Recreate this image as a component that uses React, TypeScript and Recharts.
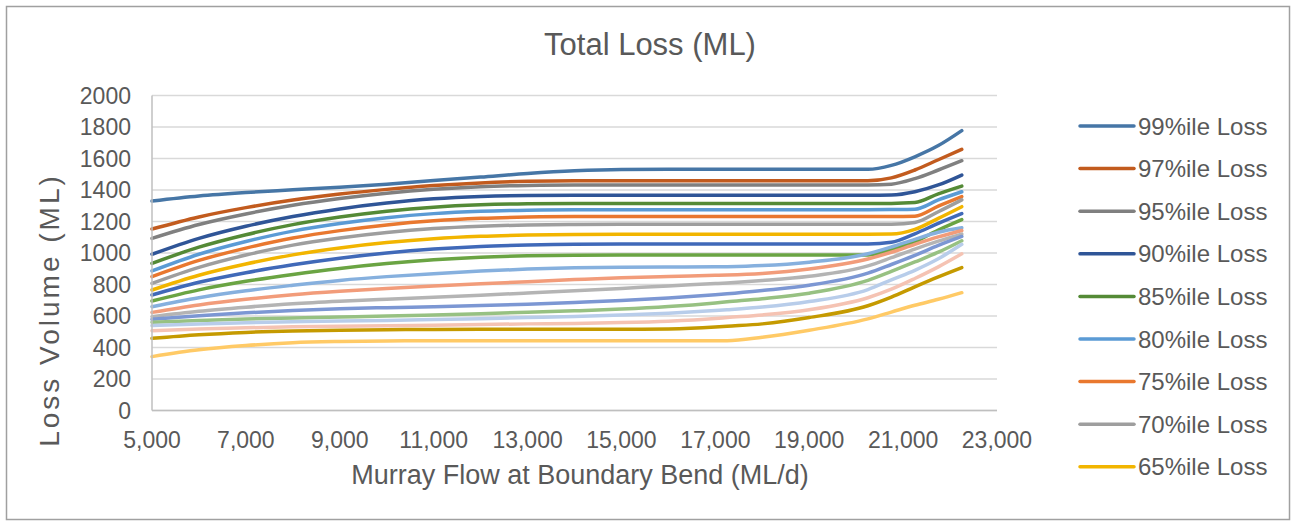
import { LineChart, Line, XAxis, YAxis, CartesianGrid } from 'recharts'

// flow at Boundary Bend (ML/d)
const FLOWS = [5000, 6000, 7000, 8000, 9000, 10000, 11000, 12000, 13000, 14000, 15000, 16000, 17000, 17250, 18000, 19000, 20250, 20750, 21250, 21750, 22250]

const p99 = [1330, 1362, 1384, 1401, 1418, 1437, 1460, 1482, 1505, 1522, 1530, 1531, 1531, 1531, 1531, 1531, 1531, 1556, 1611, 1682, 1777]
const p97 = [1152, 1229, 1288, 1336, 1374, 1404, 1428, 1445, 1455, 1459, 1459, 1459, 1459, 1459, 1459, 1459, 1459, 1477, 1527, 1592, 1658]
const p95 = [1093, 1181, 1248, 1303, 1346, 1380, 1405, 1421, 1429, 1432, 1432, 1432, 1432, 1432, 1432, 1432, 1432, 1437, 1472, 1527, 1586]
const p90 = [992, 1093, 1170, 1232, 1280, 1317, 1344, 1359, 1365, 1366, 1366, 1366, 1366, 1366, 1366, 1366, 1366, 1368, 1389, 1432, 1495]
const p85 = [934, 1037, 1116, 1180, 1228, 1265, 1291, 1306, 1313, 1315, 1315, 1315, 1315, 1315, 1315, 1315, 1315, 1315, 1320, 1376, 1425]
const p80 = [886, 992, 1073, 1139, 1187, 1224, 1250, 1265, 1272, 1275, 1275, 1275, 1275, 1275, 1275, 1275, 1275, 1276, 1278, 1337, 1389]
const p75 = [850, 953, 1031, 1095, 1142, 1178, 1204, 1220, 1228, 1231, 1231, 1231, 1231, 1231, 1231, 1231, 1231, 1231, 1234, 1298, 1358]
const p70 = [807, 909, 987, 1050, 1095, 1130, 1155, 1170, 1178, 1181, 1182, 1182, 1182, 1182, 1182, 1182, 1182, 1183, 1194, 1262, 1337]
const p65 = [765, 859, 930, 988, 1032, 1066, 1091, 1106, 1114, 1118, 1119, 1119, 1119, 1119, 1119, 1119, 1119, 1120, 1150, 1220, 1294]
const p60 = [733, 814, 875, 925, 967, 1000, 1025, 1042, 1051, 1056, 1057, 1057, 1057, 1057, 1057, 1057, 1057, 1068, 1122, 1188, 1250]
const p55 = [695, 766, 820, 864, 902, 933, 957, 973, 982, 986, 987, 987, 987, 987, 987, 987, 987, 1023, 1072, 1146, 1212]
const p50 = [659, 716, 760, 795, 826, 850, 869, 885, 898, 906, 910, 911, 912, 913, 920, 942, 995, 1038, 1087, 1132, 1160]
const p45 = [623, 670, 706, 735, 757, 775, 791, 805, 818, 831, 843, 851, 858, 860, 870, 898, 962, 1005, 1055, 1102, 1143]
const p40 = [596, 630, 656, 678, 694, 707, 719, 732, 746, 760, 775, 791, 806, 810, 825, 852, 918, 970, 1025, 1075, 1120]
const p35 = [579, 602, 620, 635, 646, 653, 659, 666, 675, 686, 698, 714, 735, 741, 762, 795, 872, 927, 985, 1048, 1105]
const p30 = [560, 572, 581, 588, 594, 600, 607, 615, 624, 633, 644, 660, 683, 690, 710, 745, 826, 883, 943, 1005, 1078]
const p25 = [539, 549, 557, 563, 568, 572, 577, 583, 590, 597, 606, 618, 635, 640, 657, 692, 768, 830, 890, 963, 1055]
const p20 = [507, 517, 525, 531, 535, 538, 542, 546, 550, 553, 558, 567, 584, 590, 607, 640, 716, 770, 838, 912, 995]
const p15 = [458, 481, 496, 505, 510, 513, 515, 516, 516, 516, 516, 518, 530, 535, 550, 590, 665, 720, 785, 848, 907]
const p10 = [342, 385, 412, 430, 438, 442, 443, 443, 443, 443, 443, 443, 443, 443, 465, 510, 582, 625, 668, 706, 748]

const X_TICKS = [5000, 7000, 9000, 11000, 13000, 15000, 17000, 19000, 21000, 23000]
const Y_TICKS = [0, 200, 400, 600, 800, 1000, 1200, 1400, 1600, 1800, 2000]

const SERIES = [
  { key: 'p99', name: '99%ile Loss', color: '#4676A6', values: p99 },
  { key: 'p97', name: '97%ile Loss', color: '#C25B1E', values: p97 },
  { key: 'p95', name: '95%ile Loss', color: '#808080', values: p95 },
  { key: 'p90', name: '90%ile Loss', color: '#2F5597', values: p90 },
  { key: 'p85', name: '85%ile Loss', color: '#548A36', values: p85 },
  { key: 'p80', name: '80%ile Loss', color: '#5B9BD5', values: p80 },
  { key: 'p75', name: '75%ile Loss', color: '#E9782F', values: p75 },
  { key: 'p70', name: '70%ile Loss', color: '#9E9E9E', values: p70 },
  { key: 'p65', name: '65%ile Loss', color: '#F2B500', values: p65 },
  { key: 'p60', name: '60%ile Loss', color: '#4069B8', values: p60 },
  { key: 'p55', name: '55%ile Loss', color: '#6AA443', values: p55 },
  { key: 'p50', name: '50%ile Loss', color: '#86B0DE', values: p50 },
  { key: 'p45', name: '45%ile Loss', color: '#F29C7A', values: p45 },
  { key: 'p40', name: '40%ile Loss', color: '#B4B4B4', values: p40 },
  { key: 'p35', name: '35%ile Loss', color: '#7C97D3', values: p35 },
  { key: 'p30', name: '30%ile Loss', color: '#97C182', values: p30 },
  { key: 'p25', name: '25%ile Loss', color: '#B8CDEA', values: p25 },
  { key: 'p20', name: '20%ile Loss', color: '#F5C3B3', values: p20 },
  { key: 'p15', name: '15%ile Loss', color: '#C59A00', values: p15 },
  { key: 'p10', name: '10%ile Loss', color: '#FFCA66', values: p10 },
]

const LEGEND_COUNT = 9

const rows = FLOWS.map((flow, i) => {
  const row: Record<string, number> = { flow }
  SERIES.forEach(s => { row[s.key] = s.values[i] })
  return row
})

const TEXT = '#595959'
const FONT = '"Liberation Sans", Arial, sans-serif'

export default function App() {
  return (
    <div style={{ position: 'fixed', left: 0, top: 0, width: 1293, height: 522, fontFamily: FONT, background: '#fff' }}>
      <LineChart
        width={1293}
        height={522}
        data={rows}
        margin={{ top: 95.5, right: 296, bottom: 0, left: 0 }}
        style={{ position: 'absolute', left: 0, top: 0 }}
      >
        <CartesianGrid vertical={false} stroke="#D9D9D9" strokeWidth={1.5} />
        <XAxis
          dataKey="flow"
          type="number"
          domain={[5000, 23000]}
          ticks={X_TICKS}
          tickFormatter={v => v.toLocaleString('en-US')}
          height={111.5}
          tickSize={0}
          tickMargin={21}
          tick={{ fill: TEXT, fontSize: 23, fontFamily: FONT }}
          axisLine={{ stroke: '#BFBFBF', strokeWidth: 1.5 }}
          interval={0}
        />
        <YAxis
          domain={[0, 2000]}
          ticks={Y_TICKS}
          width={152}
          tickSize={0}
          tickMargin={21}
          tick={{ fill: TEXT, fontSize: 23, fontFamily: FONT }}
          axisLine={{ stroke: '#BFBFBF', strokeWidth: 1.5 }}
          interval={0}
        />
        {SERIES.map(s => (
          <Line
            key={s.key}
            type="monotone"
            dataKey={s.key}
            name={s.name}
            stroke={s.color}
            strokeWidth={3.5}
            strokeLinecap="round"
            dot={false}
            activeDot={false}
            isAnimationActive={false}
          />
        ))}
      </LineChart>
      <svg width={1293} height={522} style={{ position: 'absolute', left: 0, top: 0, pointerEvents: 'none' }}>
        <rect x={6.5} y={6.5} width={1283} height={513} fill="none" stroke="#A0A0A0" strokeWidth={1.5} />
        <text x={650} y={55} textAnchor="middle" fontSize={31} fill={TEXT} fontFamily={FONT}>Total Loss (ML)</text>
        <text x={580} y={484} textAnchor="middle" fontSize={27} fill={TEXT} fontFamily={FONT}>Murray Flow at Boundary Bend (ML/d)</text>
        <text transform="translate(59, 310) rotate(-90)" textAnchor="middle" fontSize={28} letterSpacing={3} fill={TEXT} fontFamily={FONT}>Loss Volume (ML)</text>
        {SERIES.slice(0, LEGEND_COUNT).map((s, i) => {
          const y = 126 + i * 42.6
          return (
            <g key={s.key}>
              <line x1={1080} x2={1134} y1={y} y2={y} stroke={s.color} strokeWidth={3.5} strokeLinecap="round" />
              <text x={1138} y={y + 8.5} fontSize={24} fill={TEXT} fontFamily={FONT}>{s.name}</text>
            </g>
          )
        })}
      </svg>
    </div>
  )
}
